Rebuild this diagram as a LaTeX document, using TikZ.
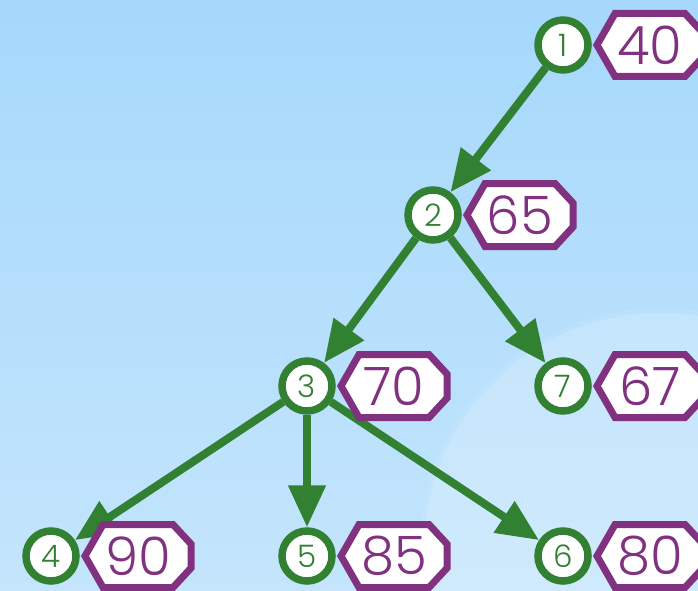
\documentclass[tikz,border=0pt]{standalone}
\usepackage{fontspec}
\setmainfont{Poppins}[UprightFont=* Light]
\usetikzlibrary{arrows.meta,calc}
\definecolor{gr}{RGB}{50,128,50}
\definecolor{pu}{RGB}{128,50,128}
\definecolor{bgtop}{RGB}{166,216,251}
\definecolor{bgbot}{RGB}{196,229,252}
\newcommand{\tagat}[3]{%
  \draw[tagbox] ($(#2.center)+(34,0)$) -- ++(18,-31.5) -- ++(70,0) -- ++(18,19.5) -- ++(0,24) -- ++(-18,19.5) -- ++(-70,0) -- cycle;
  \node[tagtext] (#1) at ($(#2.center)+(87,0)$) {#3};}
\begin{document}
\begin{tikzpicture}[x=1pt,y=-1pt,
  vertex/.style={circle, draw=gr, line width=7.5pt, fill=white, minimum size=50pt, inner sep=0pt, text=gr, font=\fontsize{31}{31}\selectfont},
  tagbox/.style={draw=pu, line width=7pt, fill=white, line join=miter},
  tagtext/.style={text=pu, font=\fontsize{53}{53}\selectfont, inner sep=0pt},
  edge/.style={draw=gr, line width=8pt, -{Triangle[length=42pt,width=36pt]}}]
\useasboundingbox (0,0) rectangle (698,591);
\shade[top color=bgtop, bottom color=bgbot] (0,0) rectangle (698,591);
\begin{scope}
  \clip (0,0) rectangle (698,591);
  \fill[white, opacity=0.08] (660,548) circle (240pt);
  \fill[white, opacity=0.14] (660,548) circle (235pt);
\end{scope}
\node[vertex] (n1) at (563,45) {1};
\node[vertex] (n2) at (433,215) {2};
\node[vertex] (n3) at (307,386) {3};
\node[vertex] (n7) at (563,386) {7};
\node[vertex] (n4) at (51,556) {4};
\node[vertex] (n5) at (307,556) {5};
\node[vertex] (n6) at (563,556) {6};
\draw[edge] (n1) -- (n2);
\draw[edge] (n2) -- (n3);
\draw[edge] (n2) -- (n7);
\draw[edge] (n3) -- (n4);
\draw[edge] (n3) -- (n5);
\draw[edge] (n3) -- (n6);
\tagat{t1}{n1}{40}
\tagat{t2}{n2}{65}
\tagat{t3}{n3}{70}
\tagat{t7}{n7}{67}
\tagat{t4}{n4}{90}
\tagat{t5}{n5}{85}
\tagat{t6}{n6}{80}
\end{tikzpicture}
\end{document}
